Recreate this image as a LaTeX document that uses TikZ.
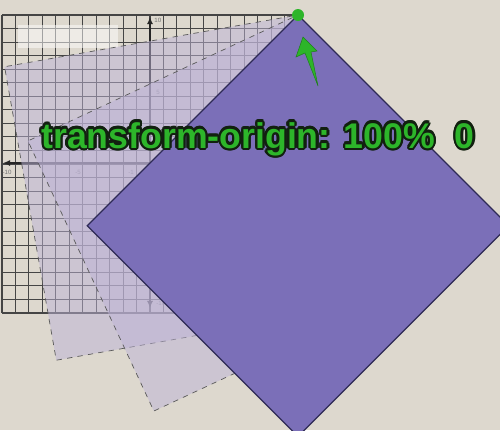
\documentclass[tikz,border=0pt]{standalone}
\usepackage{fontspec}
\setmainfont{Liberation Sans}
\usepackage{contour}
\contourlength{1.3pt}
\usetikzlibrary{arrows.meta, positioning, calc}
\definecolor{paper}{HTML}{DDD8CE}
\definecolor{gridgray}{HTML}{454545}
\definecolor{ghostlilac}{HTML}{BDB3D6}
\definecolor{lavender}{HTML}{7B6FB8}
\definecolor{lavenderedge}{HTML}{2E2A55}
\definecolor{markgreen}{HTML}{2DB52A}
\definecolor{outline}{HTML}{122010}

\begin{document}
\begin{tikzpicture}[
    x=0.02cm, y=-0.02cm,
    gridline/.style={draw=gridgray, line width=0.6pt},
    axisline/.style={{Latex[length=4pt,width=3.5pt]}-{Latex[length=4pt,width=3.5pt]}, line width=1.1pt, black!85},
    ticklbl/.style={font=\fontsize{3.5}{4}\selectfont, text=black!55, inner sep=0pt},
    ghost/.style={fill=ghostlilac, fill opacity=0.5, draw=black!65, dashed, line width=0.4pt},
    turned/.style={fill=lavender, draw=lavenderedge, line width=0.7pt},
    originlbl/.style={font=\fontsize{20.3}{24}\selectfont\bfseries, inner sep=0pt},
]
    \useasboundingbox (0,0) rectangle (500,430);
    \fill[paper] (0,0) rectangle (500,430);
    \coordinate (pivot) at (298,15);

    % Original grid
    \foreach \i in {0,...,22} {
        \draw[gridline] ({2+\i*296/22},15) -- ++(0,298);
        \draw[gridline] (2,{15+\i*298/22}) -- (298,{15+\i*298/22});
    }
    \fill[white, opacity=0.5] (18,25) rectangle (118,48);

    % Axes
    \coordinate (xl) at (3,163);
    \coordinate (xr) at (296,163);
    \coordinate (yt) at (150,17);
    \coordinate (yb) at (150,308);
    \draw[axisline] (xl) -- (xr);
    \draw[axisline] (yt) -- (yb);
    \node[ticklbl, anchor=west] (ytop) at (154,20) {10};
    \node[ticklbl, anchor=west] (yfive) at (156,92) {5};
    \node[ticklbl, anchor=west] (ybot) at (156,303) {-10};
    \node[ticklbl] (xleft) at (7,172) {-10};
    \node[ticklbl] (xfive) at (78,172) {-5};
    \node[ticklbl] (xone) at (131,172) {-1};

    % Rotated copies
    \draw[ghost, rotate around={10:(pivot)}] (pivot) rectangle ++(-298,298);
    \draw[ghost, rotate around={25:(pivot)}] (pivot) rectangle ++(-298,298);
    \draw[turned, rotate around={45:(pivot)}] (pivot) rectangle ++(-298,298);

    % Label
    \node[originlbl, anchor=base west] (origintxt) at (41,148)
        {\contour{outline}{\textcolor{markgreen}{transform-origin: 100\%\ \ 0}}};

    % Origin marker
    \fill[markgreen] (pivot) circle (6);
    \fill[markgreen, draw=markgreen!70!black, line width=0.3pt]
        (303,37) -- (296,57) -- (305,53) -- (318,86) -- (311,52) -- (317,51) -- cycle;
\end{tikzpicture}
\end{document}
